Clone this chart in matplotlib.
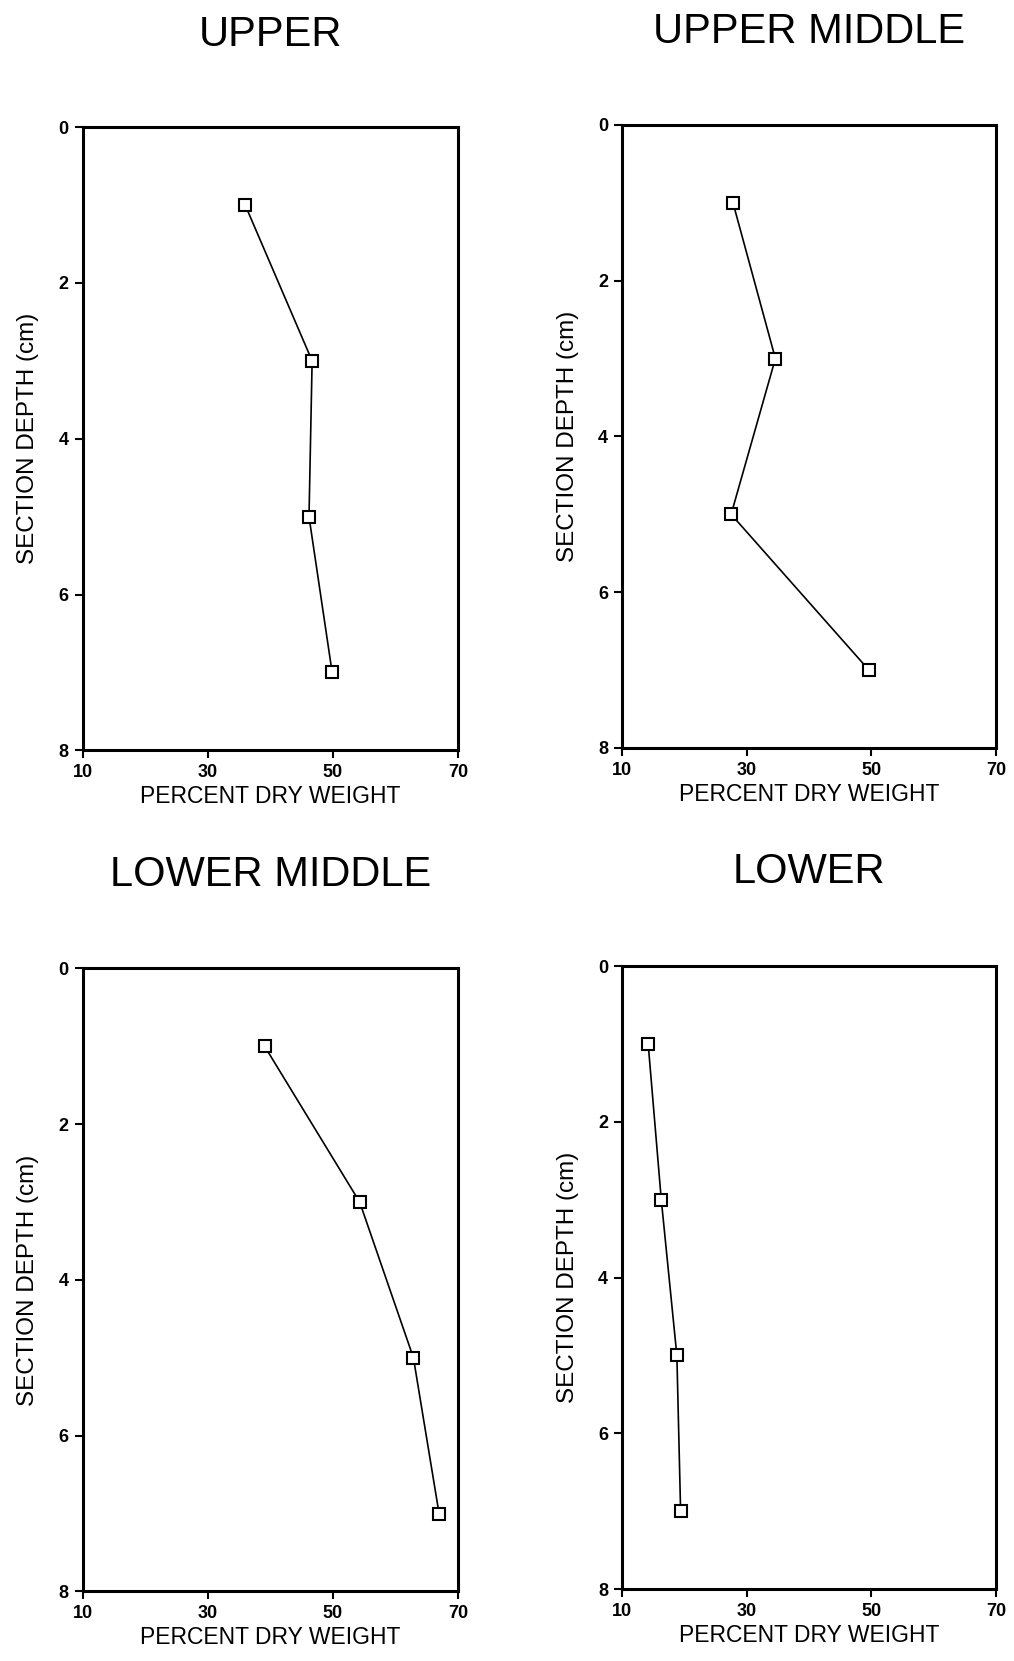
import matplotlib.pyplot as plt
from matplotlib.ticker import FixedLocator

# depth of each section (cm) and percent dry weight per core position
depth = [1, 3, 5, 7]
upper = [36.0, 46.7, 46.2, 49.9]
upper_middle = [27.8, 34.6, 27.5, 49.6]
lower_middle = [39.1, 54.3, 62.9, 67.0]
lower = [14.2, 16.3, 18.8, 19.4]

titles = ['UPPER', 'UPPER MIDDLE', 'LOWER MIDDLE', 'LOWER']
series = [upper, upper_middle, lower_middle, lower]
x_ticks = [10, 30, 50, 70]
y_ticks = [0, 2, 4, 6, 8]

plt.rcParams['font.family'] = ['Liberation Sans', 'DejaVu Sans']

fig = plt.figure(figsize=(10.14, 16.61), dpi=100)

# axes boxes in figure fractions: left, bottom, width, height
boxes = [
    [0.0815, 0.5483, 0.370, 0.3751],
    [0.6134, 0.5497, 0.369, 0.3751],
    [0.0815, 0.0419, 0.370, 0.3751],
    [0.6134, 0.0433, 0.369, 0.3751],
]
title_y = [0.979, 0.981, 0.473, 0.475]

for box, ty, name, vals in zip(boxes, title_y, titles, series):
    ax = fig.add_axes(box)
    ax.plot(vals, depth, color='black', lw=1.2, marker='s', ms=8.5,
            mfc='white', mec='black', mew=1.5)
    ax.set_xlim(10, 70)
    ax.set_ylim(8, 0)
    ax.xaxis.set_major_locator(FixedLocator(x_ticks))
    ax.yaxis.set_major_locator(FixedLocator(y_ticks))
    ax.tick_params(direction='out', length=6, width=1.5, labelsize=13, pad=4)
    for lab in ax.get_xticklabels() + ax.get_yticklabels():
        lab.set_fontweight('bold')
    for sp in ax.spines.values():
        sp.set_linewidth(2.2)
    ax.set_xlabel('PERCENT DRY WEIGHT', fontsize=16.5, labelpad=3)
    ax.set_ylabel('SECTION DEPTH (cm)', fontsize=17.5, labelpad=14)
    fig.text(box[0] + box[2] / 2, ty, name, ha='center', va='center',
             fontsize=30)

fig.savefig('out.png', dpi=100)
